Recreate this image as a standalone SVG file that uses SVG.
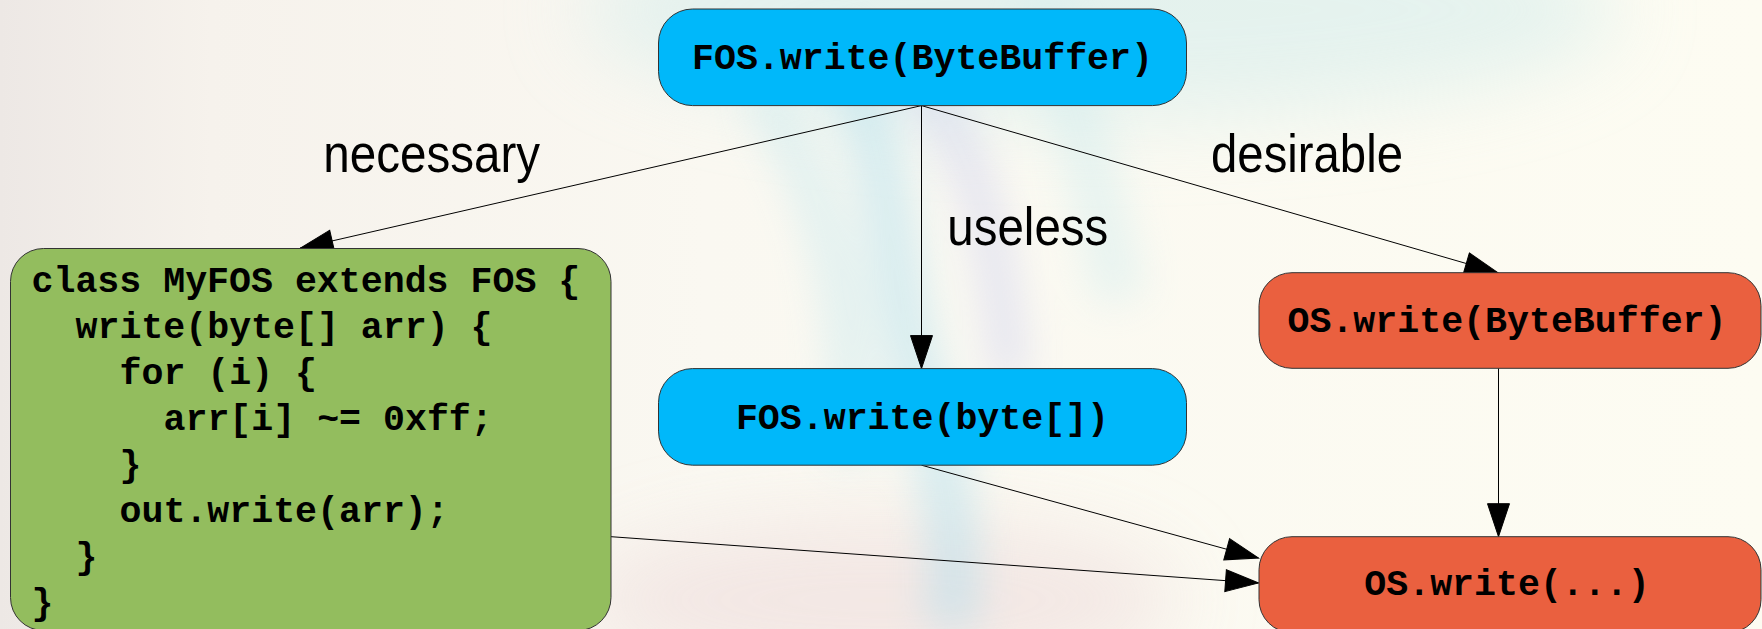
<svg xmlns="http://www.w3.org/2000/svg" width="1762" height="629" viewBox="0 0 1762 629">
  <defs>
    <linearGradient id="bg" x1="0" y1="0" x2="1" y2="0">
      <stop offset="0" stop-color="#EDE8E5"/>
      <stop offset="0.12" stop-color="#F6F2EC"/>
      <stop offset="0.4" stop-color="#FAF8F1"/>
      <stop offset="1" stop-color="#FDFCF2"/>
    </linearGradient>
    <filter id="blur40" x="-50%" y="-50%" width="200%" height="200%">
      <feGaussianBlur stdDeviation="40"/>
    </filter>
    <filter id="blur20" x="-50%" y="-50%" width="200%" height="200%">
      <feGaussianBlur stdDeviation="20"/>
    </filter>
    <marker id="arrow" markerUnits="userSpaceOnUse" markerWidth="34" markerHeight="24" refX="33" refY="11" orient="auto" viewBox="0 0 34 24" overflow="visible">
      <path d="M0,0 L33,11 L0,22 z" fill="#000" stroke="#000" stroke-width="1"/>
    </marker>
  </defs>
  <style>
    .node rect { stroke: #333; stroke-width: 1; }
    .blue { fill: #00B8FA; }
    .green { fill: #93BD5E; }
    .orange { fill: #EA603F; }
    .code { font-family: "Liberation Mono", "Courier New", monospace; font-weight: bold; font-size: 36.6px; fill: #000; }
    .label { font-family: "Liberation Sans", Arial, sans-serif; font-size: 54px; fill: #000; }
    .edges line { stroke: #000; stroke-width: 1; fill: none; marker-end: url(#arrow); }
  </style>

  <!-- background -->
  <rect x="0" y="0" width="1762" height="629" fill="url(#bg)"/>
  <ellipse cx="1100" cy="10" rx="520" ry="110" fill="#D6EDEC" opacity="0.6" filter="url(#blur40)"/>
  <ellipse cx="880" cy="600" rx="300" ry="80" fill="#F1E3E1" opacity="0.8" filter="url(#blur40)"/>
  <g filter="url(#blur20)" fill="none" opacity="0.45">
    <path d="M820,40 C900,120 880,260 930,420 C950,500 960,560 950,629" stroke="#A9DDEE" stroke-width="50"/>
    <path d="M900,60 C980,140 1000,260 1010,380" stroke="#C3C6EE" stroke-width="34"/>
    <path d="M760,90 C820,180 860,300 850,460" stroke="#BFE6EE" stroke-width="40"/>
    <path d="M1040,0 C1080,120 1100,200 1120,300" stroke="#CDEBEE" stroke-width="50"/>
  </g>

  <!-- connectors -->
  <g class="edges" id="edges">
    <line x1="921.5" y1="105.6" x2="300" y2="248.3"/>
    <line x1="921.5" y1="105.6" x2="921.5" y2="368.6"/>
    <line x1="921.5" y1="105.6" x2="1498" y2="272.7"/>
    <line x1="921.5" y1="465.2" x2="1258.5" y2="558"/>
    <line x1="611" y1="536.7" x2="1258.5" y2="583"/>
    <line x1="1498.5" y1="368.3" x2="1498.5" y2="536.7"/>
  </g>

  <!-- edge labels -->
  <g id="labels">
    <text class="label" x="323.3" y="172" textLength="216.7" lengthAdjust="spacingAndGlyphs">necessary</text>
    <text class="label" x="947.3" y="245" textLength="161" lengthAdjust="spacingAndGlyphs">useless</text>
    <text class="label" x="1211" y="172" textLength="192" lengthAdjust="spacingAndGlyphs">desirable</text>
  </g>

  <!-- nodes -->
  <g class="node" id="fos-write-bytebuffer">
    <rect class="blue" x="658.5" y="9" width="528" height="96.6" rx="34" ry="34"/>
    <text class="code" x="922.5" y="69" text-anchor="middle">FOS.write(ByteBuffer)</text>
  </g>
  <g class="node" id="fos-write-bytes">
    <rect class="blue" x="658.5" y="368.6" width="528" height="96.6" rx="34" ry="34"/>
    <text class="code" x="922.5" y="429" text-anchor="middle">FOS.write(byte[])</text>
  </g>
  <g class="node" id="myfos">
    <rect class="green" x="10.5" y="248.5" width="600.5" height="382" rx="33" ry="33"/>
    <text class="code" x="31.5" y="292">class MyFOS extends FOS {</text>
    <text class="code" x="75.5" y="338">write(byte[] arr) {</text>
    <text class="code" x="119.5" y="384">for (i) {</text>
    <text class="code" x="163.5" y="430">arr[i] ~= 0xff;</text>
    <text class="code" x="119.5" y="476">}</text>
    <text class="code" x="119.5" y="522">out.write(arr);</text>
    <text class="code" x="75.5" y="568">}</text>
    <text class="code" x="31.5" y="614">}</text>
  </g>
  <g class="node" id="os-write-bytebuffer">
    <rect class="orange" x="1259" y="272.7" width="502" height="95.6" rx="33" ry="33"/>
    <text class="code" x="1507" y="332" text-anchor="middle">OS.write(ByteBuffer)</text>
  </g>
  <g class="node" id="os-write">
    <rect class="orange" x="1259" y="536.7" width="502" height="96" rx="33" ry="33"/>
    <text class="code" x="1507" y="595" text-anchor="middle">OS.write(...)</text>
  </g>
</svg>
